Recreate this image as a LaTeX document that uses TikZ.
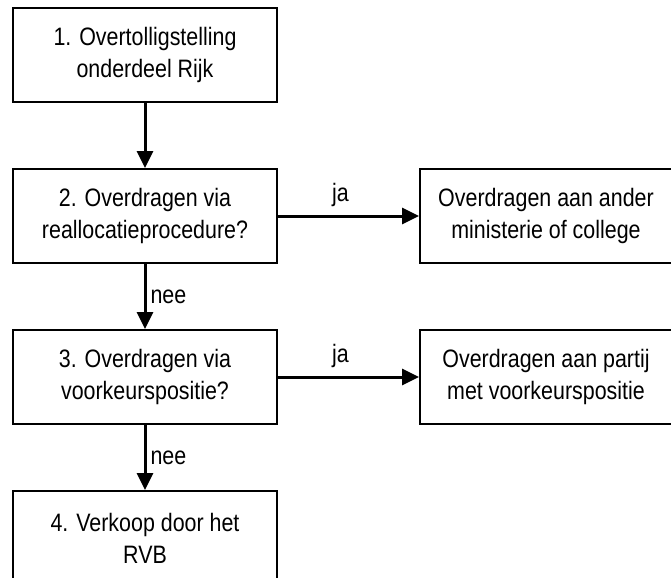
\documentclass[tikz,border=0pt]{standalone}
\usepackage{fontspec}
\setmainfont{Liberation Sans}[FakeStretch=0.85]
\usepackage{tikz}
\usetikzlibrary{arrows.meta,positioning}
\tikzset{
  stap/.style={draw,line width=1pt,align=center,minimum height=47pt,
    minimum width=132pt,inner sep=2pt},
  uitkomst/.style={stap,minimum width=126pt},
  pijl/.style={-{Triangle[length=8.5pt,width=8pt]},line width=1.5pt},
  keuze/.style={inner sep=2pt}
}

\begin{document}
\begin{tikzpicture}[font=\fontsize{12.6}{16}\selectfont,
  node distance=32.5pt and 70.5pt]
 \useasboundingbox (0,0) rectangle (335.5pt,-289pt);
 \node[stap] (overtollig) at (72.5pt,-27.5pt) {1. Overtolligstelling\\onderdeel Rijk};
 \node[stap,below=of overtollig] (realloc) {2. Overdragen via\\reallocatieprocedure?};
 \node[stap,below=of realloc] (voorkeur) {3. Overdragen via\\voorkeurspositie?};
 \node[stap,below=of voorkeur] (verkoop) {4. Verkoop door het\\RVB};
 \node[uitkomst,right=of realloc,anchor=west] (ministerie) {Overdragen aan ander\\ministerie of college};
 \node[uitkomst,right=of voorkeur,anchor=west] (partij) {Overdragen aan partij\\met voorkeurspositie};

 \draw[pijl] (overtollig) -- (realloc);
 \draw[pijl] (realloc) -- node[keuze,right] (nee1) {nee} (voorkeur);
 \draw[pijl] (voorkeur) -- node[keuze,right] (nee2) {nee} (verkoop);
 \draw[pijl] (realloc) -- node[keuze,above=2pt,xshift=-4pt] (ja1) {ja} (ministerie);
 \draw[pijl] (voorkeur) -- node[keuze,above=2pt,xshift=-4pt] (ja2) {ja} (partij);
\end{tikzpicture}
\end{document}
